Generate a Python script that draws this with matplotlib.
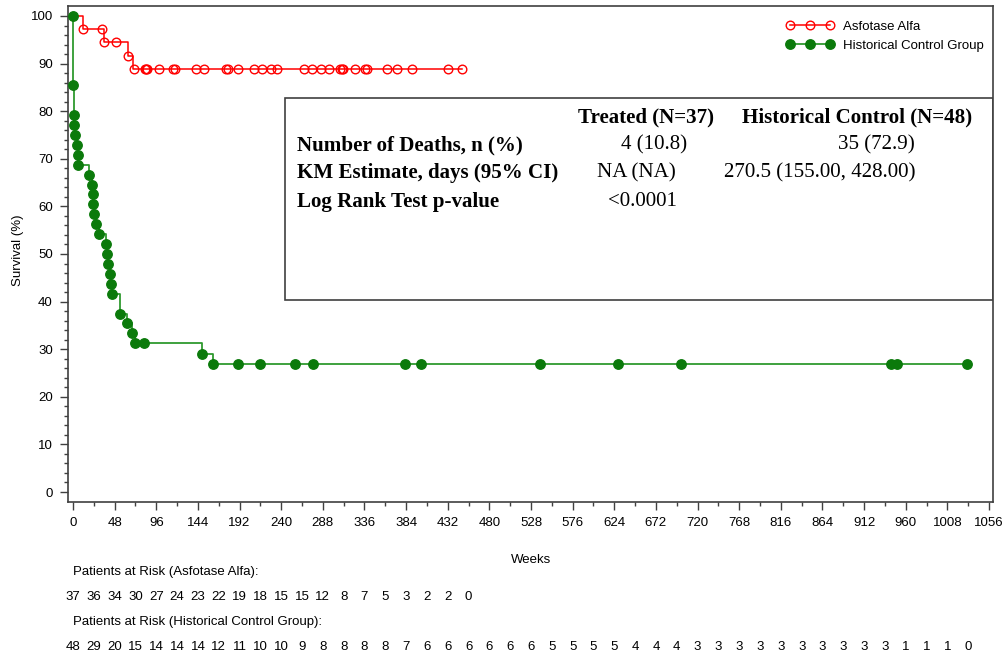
import numpy as np
import matplotlib
matplotlib.use("Agg")
import matplotlib.pyplot as plt
from matplotlib.lines import Line2D
from matplotlib.patches import Rectangle
from matplotlib.transforms import blended_transform_factory

plt.rcParams["font.family"] = ["Liberation Sans Narrow", "Liberation Sans", "DejaVu Sans"]

# Asfotase Alfa: deaths (week, survival % after step) and censor marks
aa_event_weeks = [11.2, 35.7, 63.8, 68.8]
aa_event_surv = [97.3, 94.6, 91.5, 88.9]
aa_cens_weeks = [11.2, 33.0, 35.7, 49.6, 63.8,
                 70.3, 83.0, 84.2, 85.3, 99.2, 115.3, 117.6, 141.8, 151.0,
                 176.4, 178.1, 190.2, 208.7, 217.9, 228.3, 235.2, 266.3,
                 275.5, 285.9, 295.1, 307.8, 310.1, 311.3, 325.1, 336.6,
                 338.9, 362.0, 373.5, 390.8, 432.3, 448.4]
aa_cens_surv = [97.3, 97.3, 94.6, 94.6, 91.5] + [88.9] * 31
aa_last_week = 448.4

# Historical control group
hc_event_weeks = [0.3, 1.2, 1.5, 2.3, 4.9, 5.4, 6.1, 18.8, 22.2, 22.6, 23.1,
                  24.5, 26.2, 30.3, 38.4, 39.2, 40.0, 42.6, 43.5, 45.3, 54.2,
                  61.9, 68.4, 71.5, 149.1, 161.1]
hc_event_surv = [85.4, 79.2, 77.1, 75.0, 72.9, 70.8, 68.8, 66.7, 64.6, 62.5,
                 60.4, 58.3, 56.3, 54.2, 52.1, 50.0, 47.9, 45.8, 43.8, 41.7,
                 37.5, 35.4, 33.3, 31.3, 29.0, 26.8]
hc_cens_weeks = [82.0, 190.6, 215.5, 255.6, 277.0, 382.8, 400.9, 538.4,
                 628.7, 700.6, 942.7, 950.3, 1030.3]
hc_cens_surv = [31.3] + [26.8] * 12
hc_last_week = 1030.3

risk_weeks_step = 24
aa_at_risk = [37, 36, 34, 30, 27, 24, 23, 22, 19, 18, 15, 15, 12, 8, 7, 5, 3, 2, 2, 0]
hc_at_risk = [48, 29, 20, 15, 14, 14, 14, 12, 11, 10, 10, 9, 8, 8, 8, 8, 7,
              6, 6, 6, 6, 6, 6, 5, 5, 5, 5, 4, 4, 4,
              3, 3, 3, 3, 3, 3, 3, 3, 3, 3, 1, 1, 1, 0]

table_header = ["Treated (N=37)", "Historical Control (N=48)"]
table_rows = ["Number of Deaths, n (%)", "KM Estimate, days (95% CI)", "Log Rank Test p-value"]
table_treated = ["4 (10.8)", "NA (NA)", "<0.0001"]
table_control = ["35 (72.9)", "270.5 (155.00, 428.00)", ""]

RED = "#ff0000"
GREEN_LINE = "#2f9a2f"
GREEN_MARK = "#0b7a0b"
SPINE = "#404040"

fig = plt.figure(figsize=(10.02, 6.59), dpi=100)
ax = fig.add_axes([68 / 1002, 157 / 659, 925 / 1002, 496 / 659])

# step curves
aa_x = [0] + aa_event_weeks + [aa_last_week]
aa_y = [100] + aa_event_surv + [aa_event_surv[-1]]
ax.step(aa_x, aa_y, where="post", color=RED, lw=1.1, zorder=3)
ax.plot(aa_cens_weeks, aa_cens_surv, ls="none", marker="o", ms=6.2,
        mfc="none", mec=RED, mew=1.0, zorder=4)

hc_x = [0] + hc_event_weeks + [hc_last_week]
hc_y = [100] + hc_event_surv + [hc_event_surv[-1]]
ax.step(hc_x, hc_y, where="post", color=GREEN_LINE, lw=1.3, zorder=3)
ax.plot([0] + hc_event_weeks + hc_cens_weeks, [100] + hc_event_surv + hc_cens_surv,
        ls="none", marker="o", ms=6.8, mfc=GREEN_MARK, mec=GREEN_MARK, zorder=4)

ax.set_xlim(-5.8, 1060.6)
ax.set_ylim(-2.1, 102.1)
ax.set_xticks(np.arange(0, 1057, 48))
ax.set_xticks(np.arange(0, 1057, 24), minor=True)
ax.set_yticks(np.arange(0, 101, 10))
ax.set_yticks(np.arange(0, 101, 2), minor=True)
ax.tick_params(which="major", direction="out", length=6, width=1, color=SPINE,
               labelsize=9.5, pad=5)
ax.tick_params(which="minor", direction="out", length=3, width=1, color=SPINE)
for s in ax.spines.values():
    s.set_color(SPINE)
    s.set_linewidth(1.2)

# legend
handles = [
    Line2D([], [], color=RED, lw=1.1, marker="o", ms=6.2, mfc="none", mec=RED),
    Line2D([], [], color=GREEN_LINE, lw=1.3, marker="o", ms=6.8, mfc=GREEN_MARK, mec=GREEN_MARK),
]
ax.legend(handles, ["Asfotase Alfa", "Historical Control Group"], loc="upper right",
          bbox_to_anchor=(1.0055, 1.0), frameon=False, numpoints=3, handlelength=3.6,
          handletextpad=0.7, fontsize=9.5, labelspacing=0.5, borderaxespad=0.7)

# summary table box
ax.add_patch(Rectangle((217 / 925, 202 / 496), 708 / 925, 202 / 496,
                       transform=ax.transAxes, fill=False, ec=SPINE, lw=1.2, zorder=5))


def fx(px):
    return (px - 68) / 925


def fy(py):
    return (502 - py) / 496


serif = dict(family=["Liberation Serif", "DejaVu Serif"], fontsize=15.1,
             transform=ax.transAxes, va="center")
ax.text(fx(578), fy(117), table_header[0], weight="bold", **serif)
ax.text(fx(742), fy(117), table_header[1], weight="bold", **serif)
row_y = [145, 173, 202]
treated_x = [621, 597, 608]
control_x = [838, 724, 0]
for i, label in enumerate(table_rows):
    ax.text(fx(297), fy(row_y[i]), label, weight="bold", **serif)
    ax.text(fx(treated_x[i]), fy(row_y[i]), table_treated[i], **serif)
    if table_control[i]:
        ax.text(fx(control_x[i]), fy(row_y[i]), table_control[i], **serif)

# axis labels
fig.text(18 / 1002, 1 - 250 / 659, "Survival (%)", rotation=90, ha="center",
         va="center", fontsize=9.5)
fig.text(531 / 1002, 1 - 560 / 659, "Weeks", ha="center", va="center", fontsize=9.5)

# patients at risk
trans = blended_transform_factory(ax.transData, fig.transFigure)
fig.text(73 / 1002, 1 - 572 / 659, "Patients at Risk (Asfotase Alfa):", ha="left",
         va="center", fontsize=9.5)
fig.text(73 / 1002, 1 - 622 / 659, "Patients at Risk (Historical Control Group):",
         ha="left", va="center", fontsize=9.5)
for i, n in enumerate(aa_at_risk):
    ax.text(i * risk_weeks_step, 1 - 597 / 659, str(n), transform=trans,
            ha="center", va="center", fontsize=9.5, clip_on=False)
for i, n in enumerate(hc_at_risk):
    ax.text(i * risk_weeks_step, 1 - 647 / 659, str(n), transform=trans,
            ha="center", va="center", fontsize=9.5, clip_on=False)

fig.savefig("out.png", dpi=100)
